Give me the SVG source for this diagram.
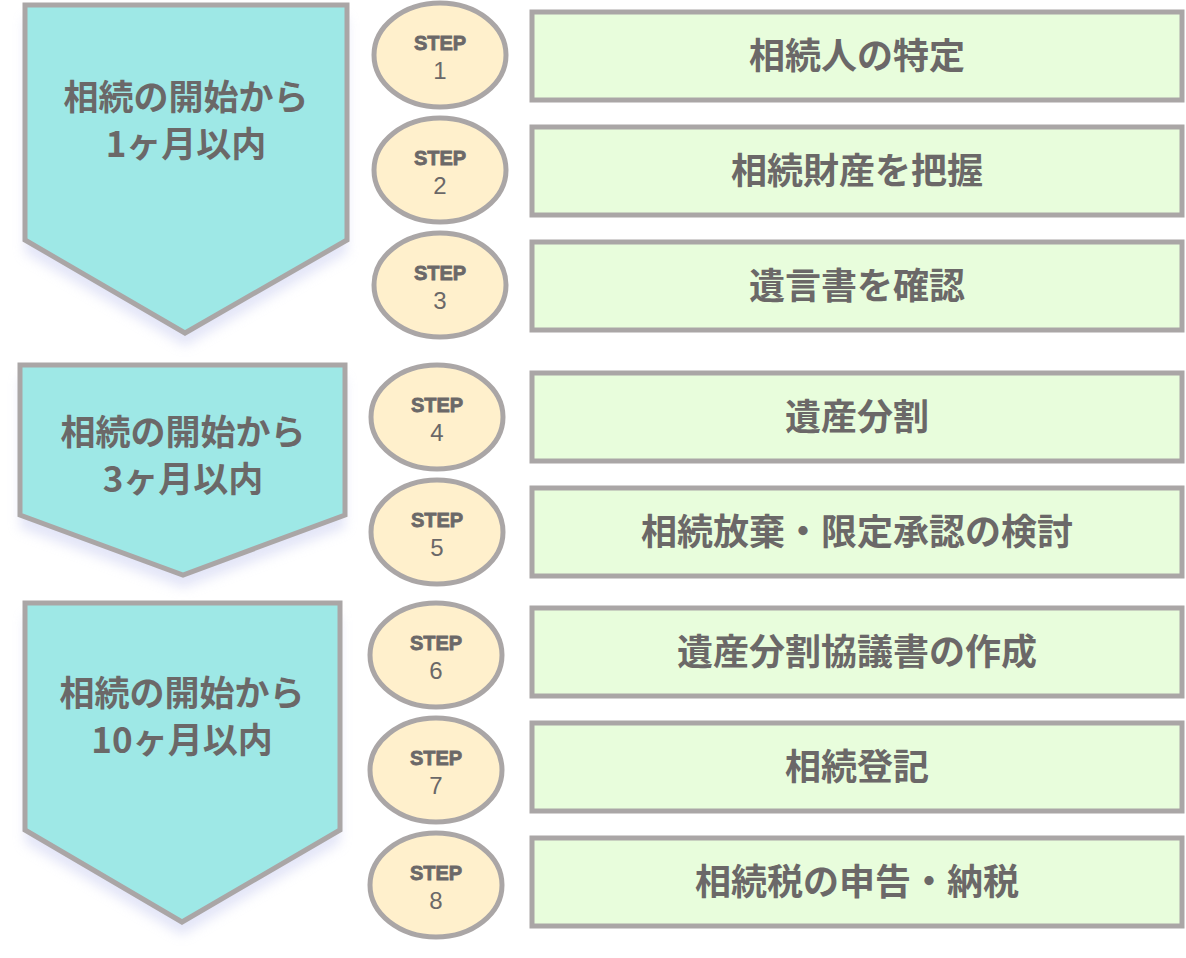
<svg xmlns="http://www.w3.org/2000/svg" width="1186" height="958" viewBox="0 0 1186 958">
<style>
.chev{fill:#9ee8e6;stroke:#aaa6a6;stroke-width:5}
.sh{fill:#c8ccf0;opacity:0.5;filter:url(#blur)}
.circ{fill:#fff0cc;stroke:#aaa6a6;stroke-width:5}
.box{fill:#e8fddc;stroke:#aaa6a6;stroke-width:5}
text{font-family:"Noto Sans CJK JP","Liberation Sans",sans-serif;fill:#6b6868;text-anchor:middle}
.big{font-size:35px;font-weight:bold}
.lbl{font-size:36px;font-weight:bold}
.st{font-family:"Liberation Sans",sans-serif;font-size:20px;font-weight:bold;stroke:#6b6868;stroke-width:0.8}
.num{font-family:"Liberation Sans",sans-serif;font-size:24px}
</style>
<defs><filter id="blur" x="-20%" y="-20%" width="140%" height="140%"><feGaussianBlur stdDeviation="6"/></filter></defs>
<rect width="1186" height="958" fill="#fff"/>
<g id="phase1">
<polygon class="sh" points="25,18 347,18 347,253 185,346 25,253"/>
<polygon class="chev" points="25,5 347,5 347,240 185,333 25,240"/>
<text class="big" x="186" y="110">相続の開始から</text>
<text class="big" x="186" y="157">1ヶ月以内</text>
</g>
<g id="phase2">
<polygon class="sh" points="20,378 345,378 345,528 183,588 20,528"/>
<polygon class="chev" points="20,365 345,365 345,515 183,575 20,515"/>
<text class="big" x="183" y="445">相続の開始から</text>
<text class="big" x="183" y="492">3ヶ月以内</text>
</g>
<g id="phase3">
<polygon class="sh" points="25,616 340,616 340,843 182,935 25,843"/>
<polygon class="chev" points="25,603 340,603 340,830 182,922 25,830"/>
<text class="big" x="182" y="706">相続の開始から</text>
<text class="big" x="182" y="753">10ヶ月以内</text>
</g>
<g id="connectors"></g>
<g id="step1"><ellipse class="circ" cx="440" cy="55" rx="66" ry="52"/><text class="st" x="440" y="50">STEP</text><text class="num" x="440" y="79">1</text></g>
<g id="step2"><ellipse class="circ" cx="440" cy="170" rx="66" ry="52"/><text class="st" x="440" y="165">STEP</text><text class="num" x="440" y="194">2</text></g>
<g id="step3"><ellipse class="circ" cx="440" cy="285" rx="66" ry="52"/><text class="st" x="440" y="280">STEP</text><text class="num" x="440" y="309">3</text></g>
<g id="step4"><ellipse class="circ" cx="437" cy="417" rx="66" ry="52"/><text class="st" x="437" y="412">STEP</text><text class="num" x="437" y="441">4</text></g>
<g id="step5"><ellipse class="circ" cx="437" cy="532" rx="66" ry="52"/><text class="st" x="437" y="527">STEP</text><text class="num" x="437" y="556">5</text></g>
<g id="step6"><ellipse class="circ" cx="436" cy="655" rx="66" ry="52"/><text class="st" x="436" y="650">STEP</text><text class="num" x="436" y="679">6</text></g>
<g id="step7"><ellipse class="circ" cx="436" cy="770" rx="66" ry="52"/><text class="st" x="436" y="765">STEP</text><text class="num" x="436" y="794">7</text></g>
<g id="step8"><ellipse class="circ" cx="436" cy="885" rx="66" ry="52"/><text class="st" x="436" y="880">STEP</text><text class="num" x="436" y="909">8</text></g>
<g id="task1"><rect class="box" x="532" y="12" width="650" height="88"/><text class="lbl" x="857" y="69">相続人の特定</text></g>
<g id="task2"><rect class="box" x="532" y="127" width="650" height="88"/><text class="lbl" x="857" y="184">相続財産を把握</text></g>
<g id="task3"><rect class="box" x="532" y="242" width="650" height="88"/><text class="lbl" x="857" y="299">遺言書を確認</text></g>
<g id="task4"><rect class="box" x="532" y="373" width="650" height="88"/><text class="lbl" x="857" y="430">遺産分割</text></g>
<g id="task5"><rect class="box" x="532" y="488" width="650" height="88"/><text class="lbl" x="857" y="545">相続放棄・限定承認の検討</text></g>
<g id="task6"><rect class="box" x="532" y="608" width="650" height="88"/><text class="lbl" x="857" y="665">遺産分割協議書の作成</text></g>
<g id="task7"><rect class="box" x="532" y="723" width="650" height="88"/><text class="lbl" x="857" y="780">相続登記</text></g>
<g id="task8"><rect class="box" x="532" y="838" width="650" height="88"/><text class="lbl" x="857" y="895">相続税の申告・納税</text></g>
</svg>
